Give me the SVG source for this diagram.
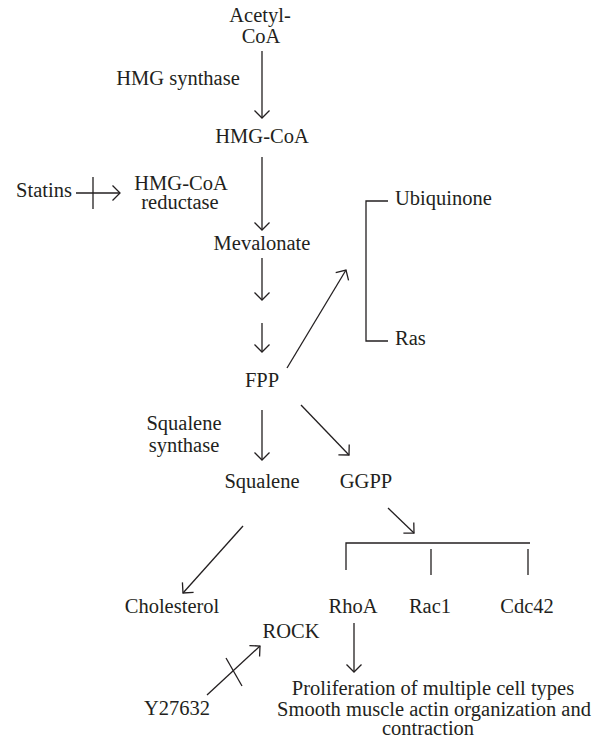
<svg xmlns="http://www.w3.org/2000/svg" width="608" height="740" viewBox="0 0 608 740">
<defs>
<style>
text{font-family:"Liberation Serif","Times New Roman",serif;font-size:20.5px;fill:#231f20;text-anchor:middle}
.s{text-anchor:start}
.c{stroke:#231f20;stroke-width:1.3;fill:none}
</style>
<marker id="ah" markerUnits="userSpaceOnUse" markerWidth="20" markerHeight="20" viewBox="-10 -10 20 20" refX="0" refY="0" orient="auto">
<path d="M-7.5,-7.5 L0,0 L-7.5,7.5" fill="none" stroke="#231f20" stroke-width="1.3"/>
</marker>
</defs>
<rect width="608" height="740" fill="#fff"/>
<g id="connectors">
<line class="c" x1="262" y1="51" x2="262" y2="118" marker-end="url(#ah)"/>
<line class="c" x1="262" y1="157" x2="262" y2="230" marker-end="url(#ah)"/>
<line class="c" x1="262" y1="258" x2="262" y2="300" marker-end="url(#ah)"/>
<line class="c" x1="262" y1="323" x2="262" y2="352" marker-end="url(#ah)"/>
<line class="c" x1="287" y1="368" x2="346" y2="270" marker-end="url(#ah)"/>
<line class="c" x1="76" y1="193" x2="120" y2="193" marker-end="url(#ah)"/>
<line class="c" x1="93" y1="177" x2="93" y2="209"/>
<line class="c" x1="262" y1="410" x2="262" y2="460" marker-end="url(#ah)"/>
<line class="c" x1="301" y1="405" x2="349" y2="455" marker-end="url(#ah)"/>
<line class="c" x1="388" y1="508" x2="414" y2="533" marker-end="url(#ah)"/>
<line class="c" x1="243" y1="526" x2="183" y2="593" marker-end="url(#ah)"/>
<line class="c" x1="354" y1="623" x2="354" y2="672" marker-end="url(#ah)"/>
<line class="c" x1="207" y1="695" x2="260" y2="646" marker-end="url(#ah)"/>
<line class="c" x1="226" y1="658" x2="242" y2="686"/>
<path class="c" d="M388,201 H366 V341 H388"/>
<path class="c" d="M346,570 V543 H530"/>
<line class="c" x1="431" y1="549" x2="431" y2="575"/>
<line class="c" x1="528" y1="549" x2="528" y2="575"/>
</g>
<g id="acetyl-coa"><text x="260" y="22">Acetyl-</text><text x="261" y="43">CoA</text></g>
<g id="hmg-synthase"><text x="178" y="85">HMG synthase</text></g>
<g id="hmg-coa"><text x="262" y="143">HMG-CoA</text></g>
<g id="statins"><text x="44" y="197">Statins</text></g>
<g id="hmg-coa-reductase"><text x="181" y="190">HMG-CoA</text><text x="180" y="209">reductase</text></g>
<g id="mevalonate"><text x="262" y="250">Mevalonate</text></g>
<g id="fpp"><text x="262" y="387">FPP</text></g>
<g id="ubiquinone"><text class="s" x="395" y="205">Ubiquinone</text></g>
<g id="ras"><text class="s" x="395" y="345">Ras</text></g>
<g id="squalene-synthase"><text x="184" y="430">Squalene</text><text x="184" y="452">synthase</text></g>
<g id="squalene"><text x="262" y="488">Squalene</text></g>
<g id="ggpp"><text x="366" y="488">GGPP</text></g>
<g id="cholesterol"><text x="172" y="613">Cholesterol</text></g>
<g id="rhoa"><text x="353" y="613">RhoA</text></g>
<g id="rac1"><text x="430" y="613">Rac1</text></g>
<g id="cdc42"><text x="527" y="613">Cdc42</text></g>
<g id="rock"><text x="291" y="638">ROCK</text></g>
<g id="y27632"><text x="177" y="715">Y27632</text></g>
<g id="outcome"><text x="433" y="695">Proliferation of multiple cell types</text><text x="434" y="716">Smooth muscle actin organization and</text><text x="428" y="735">contraction</text></g>
</svg>
